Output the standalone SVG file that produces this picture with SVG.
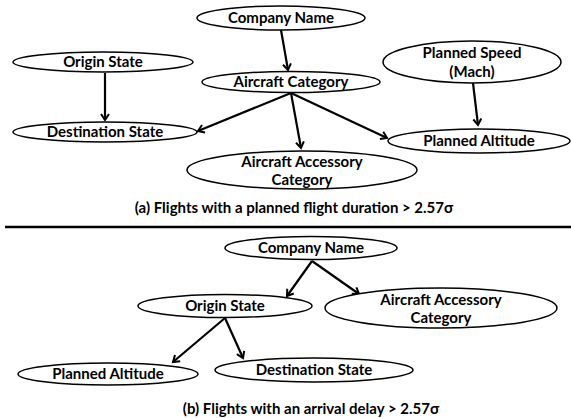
<svg xmlns="http://www.w3.org/2000/svg" width="571" height="418" viewBox="0 0 571 418">
<defs>
<marker id="ah" markerWidth="10" markerHeight="10" refX="7" refY="5" orient="auto" markerUnits="userSpaceOnUse">
<path d="M1,1 L7,5 L1,9" fill="none" stroke="#000" stroke-width="2"/>
</marker>
<style>
.n ellipse{fill:#fff;stroke:#000;stroke-width:1.5}
.n text,.cap{font-family:Lato,"Liberation Sans",sans-serif;font-weight:bold;font-size:15px;text-anchor:middle;fill:#000}
.cap{font-size:15px}
#edges line{stroke:#000;stroke-width:2.2;marker-end:url(#ah)}
</style>
</defs>
<rect width="571" height="418" fill="#fff"/>
<g id="edges">
<line x1="281" y1="30" x2="288" y2="70"/>
<line x1="105" y1="73" x2="105" y2="120"/>
<line x1="291" y1="93" x2="198" y2="131"/>
<line x1="291" y1="93" x2="301" y2="148"/>
<line x1="291" y1="93" x2="387" y2="138"/>
<line x1="473" y1="83" x2="478" y2="125"/>
<line x1="312" y1="261" x2="287" y2="296"/>
<line x1="312" y1="261" x2="359" y2="294"/>
<line x1="225" y1="318" x2="173" y2="362"/>
<line x1="225" y1="318" x2="243" y2="358"/>
</g>
<g id="a_company" class="n"><ellipse cx="281" cy="18" rx="84" ry="12"/><text x="281" y="23">Company Name</text></g>
<g id="a_origin" class="n"><ellipse cx="103" cy="62" rx="90" ry="10"/><text x="103" y="67">Origin State</text></g>
<g id="a_category" class="n"><ellipse cx="291" cy="82" rx="89" ry="10.5"/><text x="291" y="87">Aircraft Category</text></g>
<g id="a_speed" class="n"><ellipse cx="472" cy="62" rx="89" ry="21"/><text x="472" y="58">Planned Speed</text><text x="472" y="77">(Mach)</text></g>
<g id="a_dest" class="n"><ellipse cx="105" cy="132" rx="92" ry="10"/><text x="105" y="137">Destination State</text></g>
<g id="a_altitude" class="n"><ellipse cx="479" cy="141" rx="91" ry="12"/><text x="479" y="146">Planned Altitude</text></g>
<g id="a_accessory" class="n"><ellipse cx="302" cy="170" rx="115" ry="19"/><text x="302" y="167">Aircraft Accessory</text><text x="302" y="185">Category</text></g>
<text class="cap" x="294" y="213">(a) Flights with a planned flight duration &gt; 2.57σ</text>
<line x1="5" y1="227" x2="571" y2="227" stroke="#000" stroke-width="2.5"/>
<g id="b_company" class="n"><ellipse cx="311" cy="248" rx="86" ry="11.5"/><text x="311" y="253">Company Name</text></g>
<g id="b_origin" class="n"><ellipse cx="225" cy="306" rx="87" ry="11.5"/><text x="225" y="311">Origin State</text></g>
<g id="b_accessory" class="n"><ellipse cx="441" cy="308" rx="116" ry="20"/><text x="441" y="305">Aircraft Accessory</text><text x="441" y="323">Category</text></g>
<g id="b_altitude" class="n"><ellipse cx="108" cy="374" rx="90" ry="11"/><text x="108" y="379">Planned Altitude</text></g>
<g id="b_dest" class="n"><ellipse cx="314" cy="370" rx="99" ry="12"/><text x="314" y="375">Destination State</text></g>
<text class="cap" x="311" y="414">(b) Flights with an arrival delay &gt; 2.57σ</text>
</svg>
